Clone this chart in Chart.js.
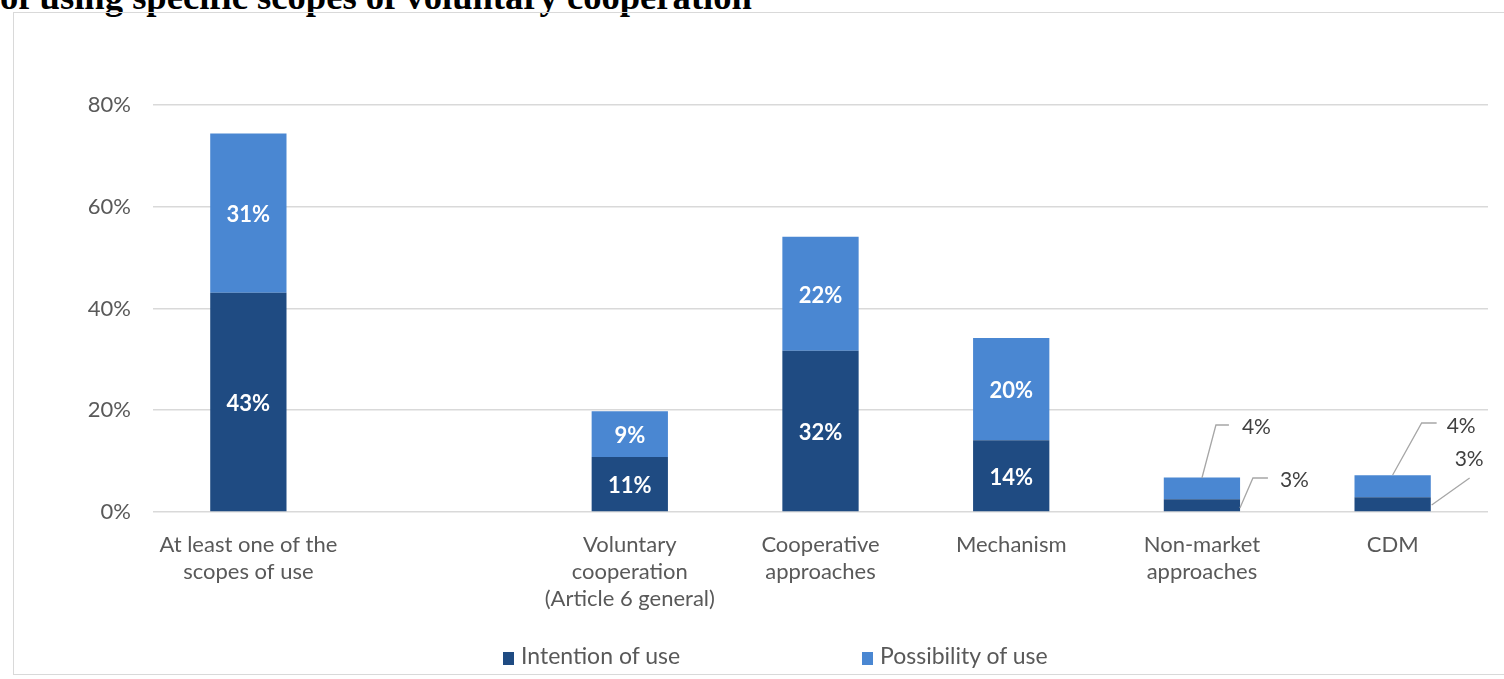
<!DOCTYPE html>
<html>
<head>
<meta charset="utf-8">
<title>Voluntary cooperation scopes</title>
<script src="https://cdn.jsdelivr.net/npm/chart.js@4.4.1/dist/chart.umd.min.js"></script>
<style>
  html, body { margin: 0; padding: 0; background: #fff; overflow: hidden; }
  #page { position: relative; width: 1504px; height: 679px; }
  #title {
    position: absolute; left: 0; top: -25px; white-space: nowrap; line-height: 36px;
    font: bold 36.6px 'Liberation Serif', 'Times New Roman', serif; color: #000;
  }
  #frame {
    position: absolute; left: 13px; top: 12px; width: 1520px; height: 663px;
    border: 1.5px solid #d9d9d9; box-sizing: border-box;
  }
  #wrap { position: absolute; left: 0; top: 0; width: 1504px; height: 679px; }
  .lg { position: absolute; top: 641px; font: 23px Lato, sans-serif; color: #595959; white-space: nowrap; }
  .lg i { display: inline-block; width: 11px; height: 13px; margin-right: 7px; vertical-align: -1px; }
</style>
</head>
<body>
<div id="page">
  <div id="title">of using specific scopes of voluntary cooperation</div>
  <div id="frame"></div>
  <div id="wrap"><canvas id="chart"></canvas></div>
  <div class="lg" id="lg0" style="left:503px"></div>
  <div class="lg" id="lg1" style="left:862px"></div>
</div>
<script>
// ── Data ─────────────────────────────────────
const categories = [
  ['At least one of the', 'scopes of use'],
  '',
  ['Voluntary', 'cooperation', '(Article 6 general)'],
  ['Cooperative', 'approaches'],
  'Mechanism',
  ['Non-market', 'approaches'],
  'CDM'
];
const seriesNames = ['Intention of use', 'Possibility of use'];
const intention   = [43.1, null, 10.8, 31.7, 14.1, 2.5, 2.9];
const possibility = [31.3, null, 9.0, 22.4, 20.1, 4.3, 4.3];
const yTicks = [0, 20, 40, 60, 80];

const COLORS = ['#1f4b82', '#4a87d2'];
const FONT = 'Lato';

// callout offsets (px) for the small bars
// points are relative to (bar centre x, zero line y)
const callouts = {
  5: [
    { ds: 1, pts: [[0, 34], [14, 87], [27, 87]], text: [40, 85] },
    { ds: 0, pts: [[38, 4], [51, 34], [66, 34]], text: [78, 32] }
  ],
  6: [
    { ds: 1, pts: [[0, 37], [29, 89], [44, 89]], text: [54, 86] },
    { ds: 0, pts: [[39, 7], [77, 34]], text: [62, 53] }
  ]
};

// ── Labels plugin ────────────────────────────
const barLabels = {
  id: 'barLabels',
  afterDatasetsDraw(chart) {
    const ctx = chart.ctx;
    const zeroY = chart.scales.y.getPixelForValue(0);
    ctx.save();
    ctx.textBaseline = 'middle';
    chart.data.datasets.forEach((ds, di) => {
      chart.getDatasetMeta(di).data.forEach((bar, i) => {
        const v = ds.data[i];
        if (v == null || callouts[i]) return;
        ctx.font = `bold 22px ${FONT}, sans-serif`;
        ctx.fillStyle = '#ffffff';
        ctx.textAlign = 'center';
        ctx.fillText(Math.round(v) + '%', bar.x, (bar.y + bar.base) / 2 + 2);
      });
    });
    Object.entries(callouts).forEach(([idx, list]) => {
      list.forEach(c => {
        const bar = chart.getDatasetMeta(c.ds).data[idx];
        const v = chart.data.datasets[c.ds].data[idx];
        ctx.strokeStyle = '#a6a6a6';
        ctx.lineWidth = 1.3;
        ctx.beginPath();
        c.pts.forEach(([dx, dy], k) => {
          const px = bar.x + dx, py = zeroY - dy;
          k ? ctx.lineTo(px, py) : ctx.moveTo(px, py);
        });
        ctx.stroke();
        ctx.font = `21px ${FONT}, sans-serif`;
        ctx.fillStyle = '#404040';
        ctx.textAlign = 'left';
        ctx.fillText(Math.round(v) + '%', bar.x + c.text[0], zeroY - c.text[1]);
      });
    });
    ctx.restore();
  }
};

// ── Chart ────────────────────────────────────
new Chart(document.getElementById('chart'), {
  type: 'bar',
  data: {
    labels: categories,
    datasets: [
      { label: seriesNames[0], data: intention, backgroundColor: COLORS[0] },
      { label: seriesNames[1], data: possibility, backgroundColor: COLORS[1] }
    ]
  },
  options: {
    responsive: true, maintainAspectRatio: false, animation: false,
    layout: { padding: { left: 0, right: 16, top: 105, bottom: 0 } },
    datasets: { bar: { categoryPercentage: 1, barPercentage: 0.4 } },
    plugins: { legend: { display: false }, tooltip: { enabled: false } },
    scales: {
      x: {
        stacked: true,
        grid: { display: false },
        border: { display: false },
        ticks: { color: '#595959', font: { family: FONT, size: 22, lineHeight: 1.23 }, padding: 11, maxRotation: 0, autoSkip: false },
        afterFit(s) { s.height = 167; }
      },
      y: {
        stacked: true,
        min: 0, max: 80,
        afterBuildTicks(s) { s.ticks = yTicks.map(v => ({ value: v })); },
        grid: { color: '#d9d9d9', lineWidth: 1.6, drawTicks: false },
        border: { display: false },
        ticks: { color: '#595959', font: { family: FONT, size: 22 }, padding: 22, callback: v => v + '%' },
        afterFit(s) { s.width = 153; }
      }
    }
  },
  plugins: [barLabels]
});

// ── Legend ───────────────────────────────────
seriesNames.forEach((name, i) => {
  document.getElementById('lg' + i).innerHTML = `<i style="background:${COLORS[i]}"></i>${name}`;
});
</script>
</body>
</html>
